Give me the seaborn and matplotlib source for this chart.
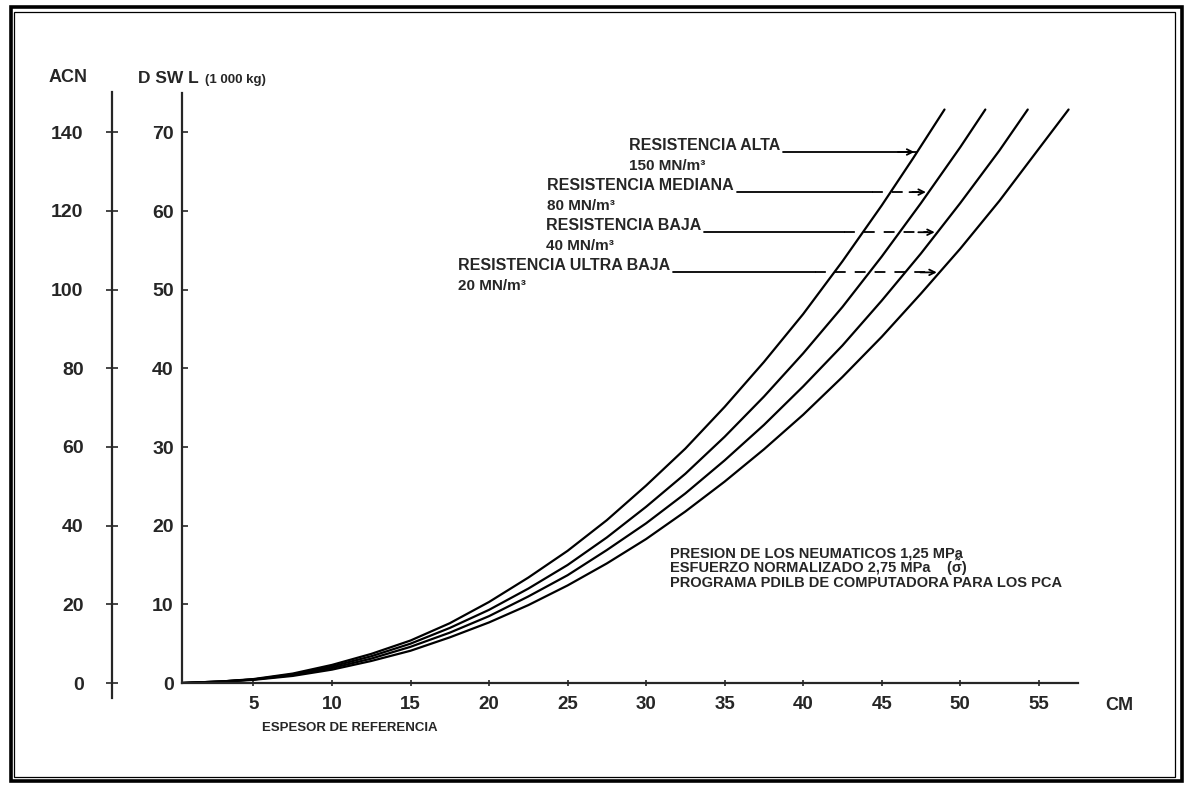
import matplotlib
matplotlib.use('Agg')
import numpy as np
import pandas as pd
import seaborn as sns
import matplotlib.pyplot as plt
from matplotlib.patches import Rectangle

# espesor (cm) y DSWL (1000 kg)
alta_cm = [0.5, 3, 5, 7.5, 10, 12.5, 15, 17.5, 20, 22.5, 25, 27.5, 30, 32.5, 35,
           37.5, 40, 42.5, 45, 47, 49.0]
alta_dswl = [0.0, 0.2, 0.5, 1.2, 2.3, 3.7, 5.4, 7.6, 10.3, 13.4, 16.8, 20.7, 25.1,
             29.8, 35.1, 40.8, 46.9, 53.6, 60.7, 66.7, 72.9]

mediana_cm = [0.5, 3, 5, 7.5, 10, 12.5, 15, 17.5, 20, 22.5, 25, 27.5, 30, 32.5, 35,
              37.5, 40, 42.5, 45, 47.5, 50, 51.6]
mediana_dswl = [0.0, 0.2, 0.45, 1.1, 2.1, 3.4, 5.0, 7.0, 9.3, 12.0, 15.0, 18.5, 22.4,
                26.6, 31.3, 36.4, 41.9, 47.8, 54.2, 61.0, 68.1, 72.9]

baja_cm = [0.5, 3, 5, 7.5, 10, 12.5, 15, 17.5, 20, 22.5, 25, 27.5, 30, 32.5, 35,
           37.5, 40, 42.5, 45, 47.5, 50, 52.5, 54.3]
baja_dswl = [0.0, 0.2, 0.45, 1.0, 1.9, 3.1, 4.6, 6.4, 8.5, 11.0, 13.7, 16.9, 20.3,
             24.1, 28.3, 32.8, 37.7, 42.9, 48.6, 54.6, 61.0, 67.7, 72.9]

ultra_cm = [0.5, 3, 5, 7.5, 10, 12.5, 15, 17.5, 20, 22.5, 25, 27.5, 30, 32.5, 35,
            37.5, 40, 42.5, 45, 47.5, 50, 52.5, 55, 56.9]
ultra_dswl = [0.0, 0.15, 0.4, 0.9, 1.7, 2.8, 4.1, 5.8, 7.7, 9.9, 12.4, 15.2, 18.3,
              21.8, 25.6, 29.7, 34.1, 38.9, 44.0, 49.5, 55.2, 61.3, 67.9, 72.9]

curvas = ['ALTA', 'MEDIANA', 'BAJA', 'ULTRA BAJA']
modulos = ['150 MN/m³', '80 MN/m³', '40 MN/m³', '20 MN/m³']
# altura (DSWL) donde la flecha toca cada curva
flecha_dswl = [67.5, 62.4, 57.3, 52.2]

x_ticks = [5, 10, 15, 20, 25, 30, 35, 40, 45, 50, 55]
dswl_ticks = [0, 10, 20, 30, 40, 50, 60, 70]
acn_ticks = [0, 20, 40, 60, 80, 100, 120, 140]

notas = ['PRESION DE LOS NEUMATICOS 1,25 MPa',
         'ESFUERZO NORMALIZADO 2,75 MPa    (σ̃)',
         'PROGRAMA PDILB DE COMPUTADORA PARA LOS PCA']

datos = [(alta_cm, alta_dswl), (mediana_cm, mediana_dswl),
         (baja_cm, baja_dswl), (ultra_cm, ultra_dswl)]
df = pd.concat([pd.DataFrame({'cm': c, 'dswl': d, 'curva': n})
                for (c, d), n in zip(datos, curvas)], ignore_index=True)

sns.set_style('ticks')
plt.rcParams['font.family'] = ['Liberation Sans', 'DejaVu Sans']
plt.rcParams['font.weight'] = 'bold'

W, H = 1187, 785
fig = plt.figure(figsize=(W / 100, H / 100), dpi=100)

def px(x0, y0, x1, y1):
    return [x0 / W, 1 - y1 / H, (x1 - x0) / W, (y1 - y0) / H]

ax = fig.add_axes(px(182, 93, 1078, 683))
sns.lineplot(data=df, x='cm', y='dswl', hue='curva', units='curva', estimator=None,
             palette=['black'] * 4, linewidth=1.6, legend=False, sort=False, ax=ax)
ax.set_xlim(0.45, 57.5)
ax.set_ylim(0, 75)
ax.set_xticks(x_ticks)
ax.set_yticks(dswl_ticks)
ax.set_xlabel('')
ax.set_ylabel('')
sns.despine(ax=ax)
for s in ['left', 'bottom']:
    ax.spines[s].set_linewidth(1.6)
ax.tick_params(axis='y', direction='in', length=4, width=1.2, pad=6, labelsize=14)
ax.tick_params(axis='x', direction='inout', length=5, width=1.2, pad=7, labelsize=13.5)

# eje ACN
ax2 = fig.add_axes(px(112, 92, 113, 698))
ax2.set_ylim(-3.8, 150.2)
ax2.set_yticks(acn_ticks)
ax2.set_xticks([])
for s in ['top', 'right', 'bottom']:
    ax2.spines[s].set_visible(False)
ax2.spines['left'].set_linewidth(1.6)
ax2.patch.set_visible(False)
ax2.tick_params(axis='y', direction='inout', length=9, width=1.2, pad=16, labelsize=14)

# etiquetas y flechas
txt_x = [28.9, 23.7, 23.6, 18.0]
fig.canvas.draw()
for i, (c, d) in enumerate(datos):
    y = flecha_dswl[i]
    t = ax.text(txt_x[i], y + 0.3, 'RESISTENCIA ' + curvas[i], fontsize=11.5,
                va='baseline', ha='left')
    ax.text(txt_x[i], y - 2.3, modulos[i], fontsize=11, va='baseline', ha='left')
    bb = t.get_window_extent(fig.canvas.get_renderer())
    x_ini = ax.transData.inverted().transform((bb.x1 + 3, 0))[0]
    x_fin = np.interp(y, d, c)
    x_cruce = np.interp(y, alta_dswl, alta_cm) - 1.2
    if i == 0:
        x_cruce = x_fin
    ax.plot([x_ini, x_cruce], [y, y], color='black', lw=1.3)
    if i > 0:
        ax.plot([x_cruce, x_fin - 0.6], [y, y], color='black', lw=1.3,
                dashes=(6, 5))
    ax.annotate('', xy=(x_fin, y), xytext=(x_fin - 1.4, y),
                arrowprops=dict(arrowstyle='->', color='black', lw=1.3))

for k, n in enumerate(notas):
    ax.text(31.5, 16.0 - 1.9 * k, n, fontsize=10.5, va='baseline', ha='left')

# titulos de ejes
fig.text(68 / W, 1 - 77 / H, 'ACN', fontsize=13, ha='center', va='center')
fig.text(138 / W, 1 - 83 / H, 'D SW L', fontsize=12.5, ha='left', va='baseline')
fig.text(205 / W, 1 - 83 / H, '(1 000 kg)', fontsize=9.5, ha='left', va='baseline')
fig.text(1119 / W, 1 - 706 / H, 'CM', fontsize=13, ha='center', va='center')
fig.text(262 / W, 1 - 731 / H, 'ESPESOR DE REFERENCIA', fontsize=9.5, ha='left', va='baseline')

# marco doble
fig.patches.append(Rectangle((10.5 / W, 1 - 781 / H), 1171.5 / W, 774 / H,
                             transform=fig.transFigure, fill=False, lw=2.6, ec='black'))
fig.patches.append(Rectangle((14 / W, 1 - 777 / H), 1161 / W, 765 / H,
                             transform=fig.transFigure, fill=False, lw=0.9, ec='black'))

fig.savefig('out.png', dpi=100)
